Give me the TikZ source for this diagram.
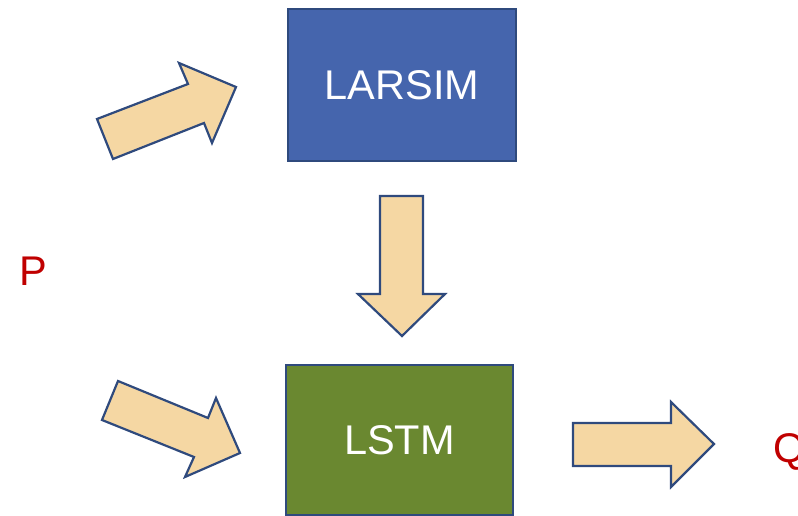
\documentclass[tikz,border=0pt]{standalone}
\usepackage{fontspec}
\setmainfont{Liberation Sans}
\usepackage{tikz}
\usetikzlibrary{positioning}

\definecolor{larsimblue}{HTML}{4565AD}
\definecolor{lstmgreen}{HTML}{6A8830}
\definecolor{edgeblue}{HTML}{2F4A7D}
\definecolor{arrowtan}{HTML}{F5D7A3}
\definecolor{labelred}{HTML}{C00000}

\tikzset{
    model/.style={draw=edgeblue, line width=1.6pt, text=white, font=\fontsize{41.5}{48}\selectfont},
    blockarrow/.style={draw=edgeblue, fill=arrowtan, line width=2.2pt, line join=miter},
    varlabel/.style={text=labelred, inner sep=0pt, font=\fontsize{41.5}{48}\selectfont}
}

\begin{document}
\begin{tikzpicture}[x=1pt,y=-1pt]
    \useasboundingbox (0,0) rectangle (798,516);
    \clip (0,0) rectangle (798,516);
    % models
    \node[model, fill=larsimblue, minimum width=228pt, minimum height=152pt] (larsim) at (402,85) {LARSIM};
    \node[model, fill=lstmgreen, minimum width=227pt, minimum height=150pt] (lstm) at (399.5,440) {LSTM};
    % input and output
    \node[varlabel, anchor=base west] (p) at (19,285) {P};
    \node[varlabel, anchor=base west] (q) at (773,462) {Q};
    % block arrows
    \draw[blockarrow] (97,119) -- (188,84) -- (179,63) -- (236,87) -- (212,143) -- (204,123) -- (113,159) -- cycle;
    \draw[blockarrow] (102,420) -- (118,381) -- (208,418) -- (216,398) -- (240,453) -- (185,477) -- (194,457) -- cycle;
    \draw[blockarrow] (380,196) -- (423,196) -- (423,294) -- (445,294) -- (402,336) -- (358,294) -- (380,294) -- cycle;
    \draw[blockarrow] (573,423) -- (671,423) -- (671,402) -- (714,444) -- (671,487) -- (671,466) -- (573,466) -- cycle;
\end{tikzpicture}
\end{document}
